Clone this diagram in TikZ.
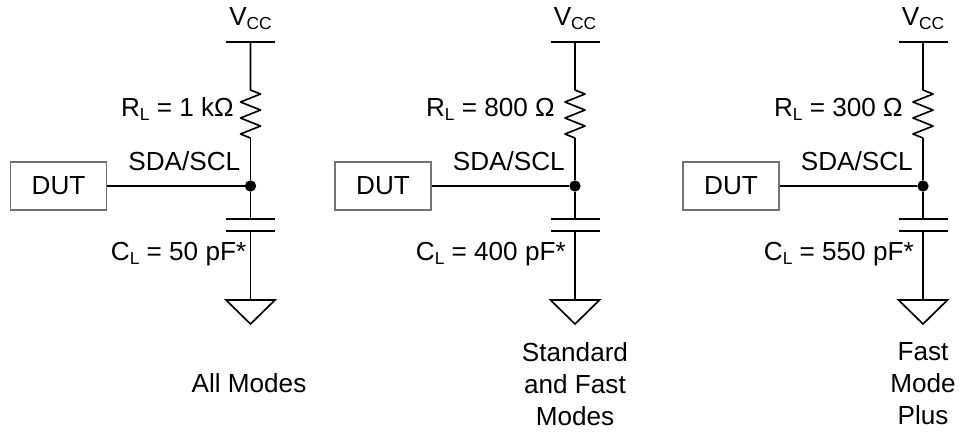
\documentclass[tikz,border=0pt]{standalone}
\usepackage{fontspec}
\setmainfont{Liberation Sans}
\tikzset{
  wire/.style={line width=1.25pt,black},
  box/.style={rectangle,draw=black!55,line width=0.9pt,minimum width=72pt,minimum height=36pt,inner sep=0pt},
  lbl/.style={inner sep=0pt,font=\fontsize{19.6}{24}\selectfont},
  dot/.style={circle,fill=black,inner sep=0pt,minimum size=8.5pt}
}
\newcommand{\subs}[1]{\raisebox{-3.4pt}{\fontsize{13}{13}\selectfont #1}}
\begin{document}
\begin{tikzpicture}[x=0.75pt,y=-0.75pt]
  \useasboundingbox (0,0) rectangle (961,433);
  \foreach \name/\cx/\rx/\cxx/\rtext/\ctext in {
    a/250.5/16.5/4/{R\subs{L} = 1 kΩ}/{C\subs{L} = 50 pF*},
    b/575/20/9/{R\subs{L} = 800 Ω}/{C\subs{L} = 400 pF*},
    c/923/20/9/{R\subs{L} = 300 Ω}/{C\subs{L} = 550 pF*}} {
    % supply rail
    \coordinate (\name vl) at (\cx-24.5,42);
    \coordinate (\name vr) at (\cx+24.5,42);
    \coordinate (\name v) at (\cx,42);
    \node [lbl,anchor=base] (\name vcc) at (\cx,25) {V\subs{CC}};
    \draw [wire] (\name vl) -- (\name vr);
    % resistor
    \coordinate (\name rt) at (\cx,90);
    \coordinate (\name rb) at (\cx,138);
    \draw [wire,line join=round] (\name v) -- (\name rt) -- ++(10,4) -- ++(-20,8) -- ++(20,8) -- ++(-20,8) -- ++(20,8) -- ++(-20,8) -- (\name rb);
    \node [lbl,anchor=base east] (\name rl) at (\cx-\rx,116) {\rtext};
    % junction and device
    \node [dot] (\name j) at (\cx,186) {};
    \node [box,lbl] (\name dut) at (\cx-192,186) {DUT};
    \node [lbl,anchor=base east] (\name sda) at (\cx-10,170) {SDA/SCL};
    \draw [wire] (\name dut) -- (\name j);
    \draw [wire] (\name rb) -- (\name j);
    % capacitor
    \coordinate (\name ct) at (\cx,219);
    \coordinate (\name cb) at (\cx,231);
    \draw [wire] (\name j) -- (\name ct);
    \draw [wire] (\cx-24.5,219) -- (\cx+24.5,219);
    \draw [wire] (\cx-24.5,231) -- (\cx+24.5,231);
    \node [lbl,anchor=base east] (\name cl) at (\cx-\cxx,260) {\ctext};
    % ground
    \coordinate (\name g) at (\cx,300);
    \draw [wire] (\name cb) -- (\name g);
    \draw [wire] (\cx-24.5,300) -- (\cx+24.5,300) -- (\cx,324) -- cycle;
  }
  \node [lbl,anchor=base] (amode) at (249,392) {All Modes};
  \node [lbl,align=center] (bmode) at (575,384) {Standard\\and Fast\\Modes};
  \node [lbl,align=center] (cmode) at (923,384) {Fast\\Mode\\Plus};
\end{tikzpicture}
\end{document}
